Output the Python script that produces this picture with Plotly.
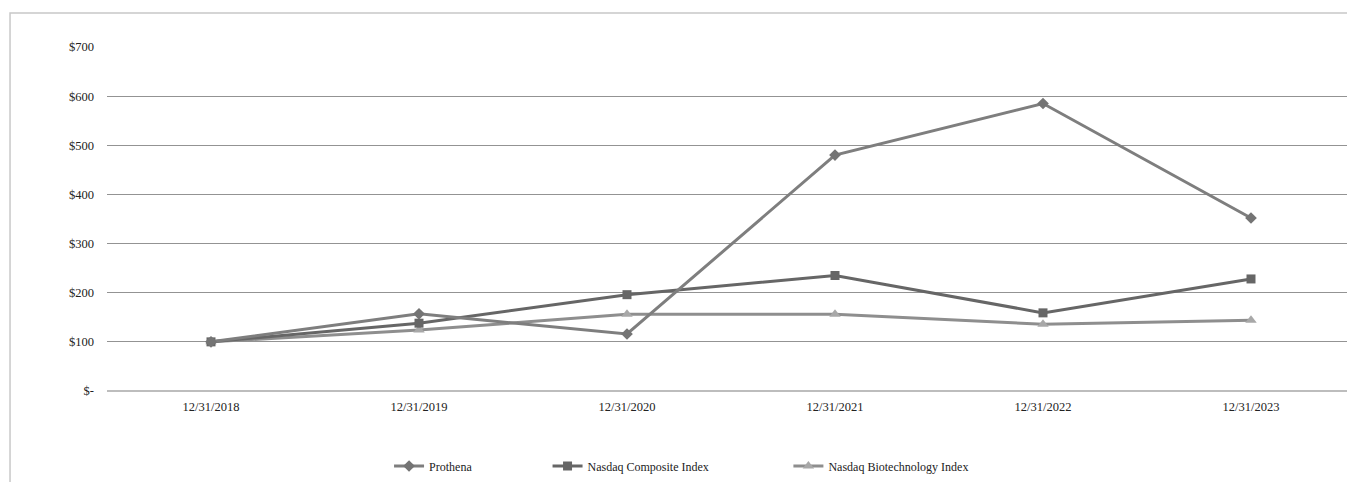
import plotly.graph_objects as go

categories = ["12/31/2018", "12/31/2019", "12/31/2020", "12/31/2021", "12/31/2022", "12/31/2023"]
prothena = [100, 157, 116, 480, 585, 352]
nasdaq_composite = [100, 138, 196, 235, 159, 228]
nasdaq_biotech = [100, 124, 156, 156, 136, 144]
y_tickvals = [0, 100, 200, 300, 400, 500, 600, 700]
y_ticktext = ["$-", "$100", "$200", "$300", "$400", "$500", "$600", "$700"]

FONT = "Liberation Serif, Times New Roman, DejaVu Serif, serif"

fig = go.Figure()
fig.add_trace(go.Scatter(
    x=categories, y=nasdaq_biotech, name="Nasdaq Biotechnology Index", mode="lines+markers",
    line=dict(color="#8e8e8e", width=3),
    marker=dict(symbol="triangle-up", size=10, color="#a8a8a8"),
    legend="legend3"))
fig.add_trace(go.Scatter(
    x=categories, y=nasdaq_composite, name="Nasdaq Composite Index", mode="lines+markers",
    line=dict(color="#666666", width=3),
    marker=dict(symbol="square", size=9, color="#666666"),
    legend="legend2"))
fig.add_trace(go.Scatter(
    x=categories, y=prothena, name="Prothena", mode="lines+markers",
    line=dict(color="#7e7e7e", width=3),
    marker=dict(symbol="diamond", size=9, color="#747474"),
    legend="legend"))

leg_common = dict(orientation="h", yanchor="middle", xanchor="left",
                  font=dict(family=FONT, size=12, color="#222222"),
                  bgcolor="rgba(0,0,0,0)", itemwidth=30)

fig.update_layout(
    width=1355, height=482,
    margin=dict(l=99, r=8, t=39, b=99),
    paper_bgcolor="white", plot_bgcolor="white",
    font=dict(family=FONT, size=12, color="#222222"),
    showlegend=True,
    legend=dict(x=0.226, y=-0.218, **leg_common),
    legend2=dict(x=0.353, y=-0.218, **leg_common),
    legend3=dict(x=0.546, y=-0.218, **leg_common),
    xaxis=dict(
        type="category", range=[-0.5, 5.5], showgrid=False, zeroline=False,
        showline=False, ticks="", tickfont=dict(family=FONT, size=12.5, color="#222222"),
        ticklabelstandoff=6, fixedrange=True),
    yaxis=dict(
        range=[0, 700], tickvals=y_tickvals, ticktext=y_ticktext,
        showgrid=True, gridcolor="#939393", gridwidth=1,
        zeroline=True, zerolinecolor="#bdbdbd", zerolinewidth=2,
        showline=False, ticks="", tickfont=dict(family=FONT, size=12.5, color="#222222"),
        ticklabelstandoff=12, fixedrange=True),
    shapes=[dict(type="rect", xref="paper", yref="paper",
                 x0=-0.0777, x1=1.2, y0=-0.6, y1=1.099,
                 line=dict(color="#c8c8c8", width=1.5), fillcolor="rgba(0,0,0,0)", layer="below")],
)

fig.write_html("out.html")
